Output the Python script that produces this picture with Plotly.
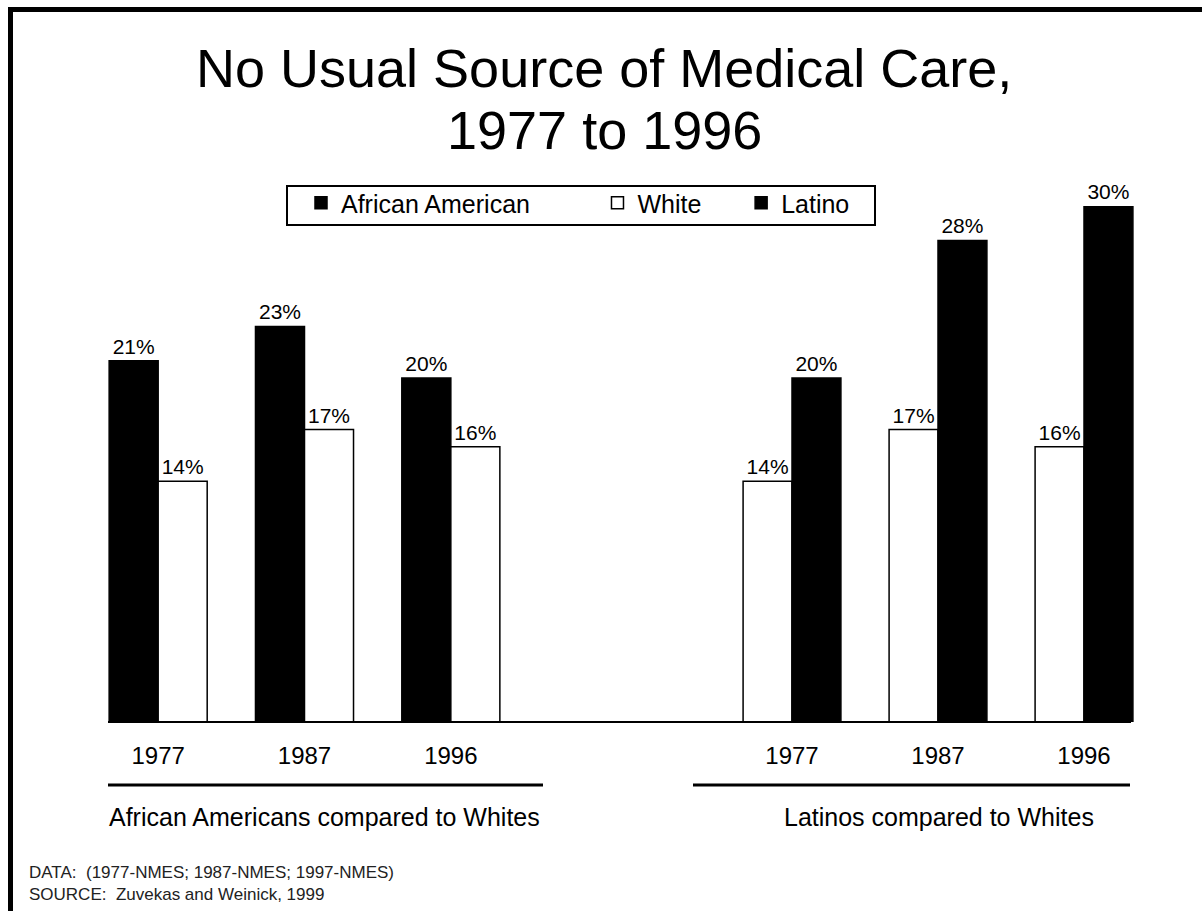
import plotly.graph_objects as go

# ---------------- data ----------------
years = ["1977", "1987", "1996"]
african_american = [21, 23, 20]
white_vs_african_american = [14, 17, 16]
white_vs_latino = [14, 17, 16]
latino = [20, 28, 30]
series_names = ["African American", "White", "Latino"]
group_titles = ["African Americans compared to Whites", "Latinos compared to Whites"]
title_lines = ["No Usual Source of Medical Care,", "1977 to 1996"]
footnote_lines = ["DATA:  (1977-NMES; 1987-NMES; 1997-NMES)",
                  "SOURCE:  Zuvekas and Weinick, 1999"]

# ---------------- layout helpers ----------------
W, H = 1202, 911
FONT = "Liberation Sans, Arial, Helvetica, sans-serif"


def fx(p):
    return p / W


def fy(p):
    return 1 - p / H


NB = "\u00a0"
legend_names = [series_names[0] + NB * 9, series_names[1] + NB * 5, series_names[2]]

bar_common = dict(
    marker_line_color="black",
    marker_line_width=1.5,
    texttemplate="%{y}%",
    textposition="outside",
    textfont=dict(size=21, color="black", family=FONT),
    cliponaxis=False,
    constraintext="none",
    hoverinfo="skip",
)

fig = go.Figure()
fig.add_trace(go.Bar(x=years, y=african_american, name=legend_names[0],
                     marker_color="black", xaxis="x", yaxis="y", **bar_common))
fig.add_trace(go.Bar(x=years, y=white_vs_african_american, name=legend_names[1],
                     marker_color="white", xaxis="x", yaxis="y", **bar_common))
fig.add_trace(go.Bar(x=years, y=white_vs_latino, name=legend_names[1], showlegend=False,
                     marker_color="white", xaxis="x2", yaxis="y", **bar_common))
fig.add_trace(go.Bar(x=years, y=latino, name=legend_names[2],
                     marker_color="black", xaxis="x2", yaxis="y", **bar_common))

xaxis_common = dict(
    type="category",
    showline=False, showgrid=False, zeroline=False,
    ticks="", ticklabelstandoff=17,
    tickfont=dict(size=24, color="black", family=FONT),
    anchor="y",
    fixedrange=True,
)

annotations = [
    dict(text=title_lines[0], x=fx(604), y=fy(68), xanchor="center", yanchor="middle",
         font=dict(size=54, color="black", family=FONT)),
    dict(text=title_lines[1], x=fx(604), y=fy(130), xanchor="center", yanchor="middle",
         font=dict(size=54, color="black", family=FONT)),
    dict(text=group_titles[0], x=fx(324), y=fy(817), xanchor="center", yanchor="middle",
         font=dict(size=25, color="black", family=FONT)),
    dict(text=group_titles[1], x=fx(939), y=fy(817), xanchor="center", yanchor="middle",
         font=dict(size=25, color="black", family=FONT)),
    dict(text="<br>".join(footnote_lines), x=fx(27), y=fy(883), xanchor="left", yanchor="middle",
         align="left", font=dict(size=17, color="#222222", family=FONT)),
]
for a in annotations:
    a.update(xref="paper", yref="paper", showarrow=False)

shapes = [
    # baseline
    dict(type="line", x0=fx(108), x1=fx(1131), y0=fy(722), y1=fy(722),
         line=dict(color="black", width=2)),
    # group underlines
    dict(type="line", x0=fx(108), x1=fx(543), y0=fy(785), y1=fy(785),
         line=dict(color="black", width=3)),
    dict(type="line", x0=fx(693), x1=fx(1130), y0=fy(785), y1=fy(785),
         line=dict(color="black", width=3)),
    # legend frame
    dict(type="rect", x0=fx(287), x1=fx(875), y0=fy(186), y1=fy(225),
         line=dict(color="black", width=2), fillcolor="rgba(0,0,0,0)"),
    # outer frame (left and top)
    dict(type="line", x0=fx(10.5), x1=fx(10.5), y0=fy(7), y1=0,
         line=dict(color="black", width=5)),
    dict(type="line", x0=fx(8), x1=1, y0=fy(9.5), y1=fy(9.5),
         line=dict(color="black", width=5)),
]
for s in shapes:
    s.update(xref="paper", yref="paper")

fig.update_layout(
    width=W, height=H,
    margin=dict(l=0, r=0, t=0, b=0),
    paper_bgcolor="white", plot_bgcolor="white",
    font=dict(family=FONT, color="black"),
    barmode="group", bargap=0.33, bargroupgap=0,
    xaxis=dict(domain=[fx(85), fx(524)], **xaxis_common),
    xaxis2=dict(domain=[fx(719), fx(1157)], **xaxis_common),
    yaxis=dict(domain=[fy(722), fy(206)], range=[0, 30], visible=False, fixedrange=True),
    showlegend=True,
    legend=dict(
        orientation="h", x=fx(301), y=fy(180), xanchor="left", yanchor="top",
        borderwidth=0, bgcolor="rgba(0,0,0,0)",
        font=dict(size=25, color="black", family=FONT),
        traceorder="normal",
    ),
    annotations=annotations,
    shapes=shapes,
)

fig.write_html("out.html")
